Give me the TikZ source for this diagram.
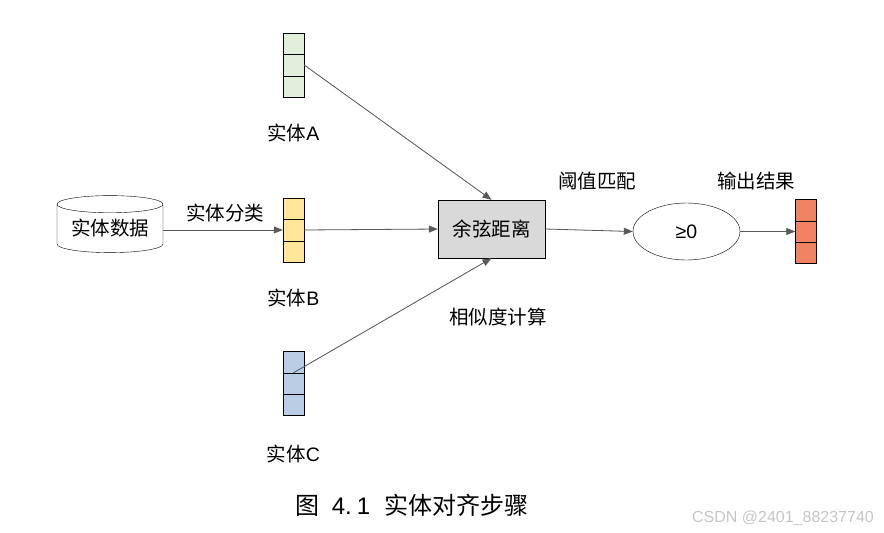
\documentclass[tikz,border=0pt]{standalone}
\usepackage{fontspec}
\setmainfont{Liberation Sans}
\newfontfamily\cjk{Noto Sans CJK SC}
\usetikzlibrary{arrows.meta,positioning,shapes.geometric,calc}
\definecolor{linegray}{HTML}{595959}
\definecolor{cellgreen}{HTML}{E2EFDA}
\definecolor{cellyellow}{HTML}{FFE699}
\definecolor{cellblue}{HTML}{B9CDE5}
\definecolor{cellred}{HTML}{F08264}
\definecolor{boxgray}{HTML}{D9D9D9}
\tikzset{
  cells/.style ={draw,fill=#1,minimum width=21pt,minimum height=64pt,inner sep=0pt},
  db/.style    ={draw,cylinder,shape border rotate=90,aspect=0.22,
                 minimum width=106pt,minimum height=57pt,inner sep=0pt},
  distbox/.style={draw,fill=boxgray,minimum width=107pt,minimum height=58pt},
  thr/.style   ={draw,ellipse,minimum width=107pt,minimum height=57pt},
  lbl/.style   ={font=\fontsize{19.5}{22}\selectfont},
  ar/.style    ={draw=linegray,line width=0.8pt,
                 -{Triangle[length=9pt,width=7pt]},fill=linegray},
}
\newcommand{\zh}[1]{{\cjk #1}}

\begin{document}
\begin{tikzpicture}[x=1pt,y=-1pt,every node/.style={font=\fontsize{19.5}{22}\selectfont}]
\useasboundingbox (0,0) rectangle (884,533);
% sources
\node[db] (DB) at (110,228.5) {\zh{实体数据}};
\node[cells=cellgreen]  (A) at (293.5,65) {};
\node[cells=cellyellow] (B) at (293.5,230) {};
\node[cells=cellblue]   (C) at (293.5,383.5) {};
\foreach \s in {A,B,C}{
  \draw ($(\s.north west)!1/3!(\s.south west)$) -- ($(\s.north east)!1/3!(\s.south east)$);
  \draw ($(\s.north west)!2/3!(\s.south west)$) -- ($(\s.north east)!2/3!(\s.south east)$);
}
\node[lbl,below=23pt of A] (LA) {\zh{实体}A};
\node[lbl,below=23pt of B] (LB) {\zh{实体}B};
\node[lbl,below=26pt of C] (LC) {\zh{实体}C};
% similarity and threshold
\node[distbox] (COS) at (491.5,229) {\zh{余弦距离}};
\node[thr]  (GE)  at (686.5,231.5) {≥0};
\node[cells=cellred] (OUT) at (806,231.5) {};
\draw ($(OUT.north west)!1/3!(OUT.south west)$) -- ($(OUT.north east)!1/3!(OUT.south east)$);
\draw ($(OUT.north west)!2/3!(OUT.south west)$) -- ($(OUT.north east)!2/3!(OUT.south east)$);
% texts
\node[lbl] (CLS) at (225,213) {\zh{实体分类}};
\node[lbl] (SIM) at (498,317) {\zh{相似度计算}};
\node[lbl] (MAT) at (597,181) {\zh{阈值匹配}};
\node[lbl] (RES) at (756,181) {\zh{输出结果}};
% connectors
\coordinate (CS) at ($(C.north)!1/3!(C.south)$);
\draw[ar] (DB.east|-B.west) -- (B.west);
\draw[ar] (A.east) -- (COS.north);
\draw[ar] (B.east) -- (COS.west);
\draw[ar] (CS) -- (COS.south);
\draw[ar] (COS.east) -- (GE.west);
\draw[ar] (GE.east) -- (OUT.west);
% caption
\node (CAP) at (412,505) {\fontsize{24}{28}\selectfont\zh{图}\hspace{12pt}4.\hspace{5pt}1\hspace{14pt}\zh{实体对齐步骤}};
\node[text=gray!45,font=\fontsize{16}{18}\selectfont] (WM) at (783,518) {CSDN @2401\_88237740};
\end{tikzpicture}
\end{document}
